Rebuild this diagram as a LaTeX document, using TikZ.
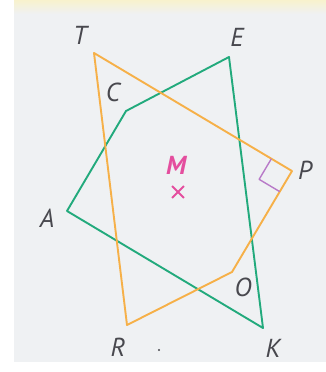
\documentclass[tikz,border=0pt]{standalone}
\usepackage{fontspec}
\setmainfont{PT Sans}
\usepackage{tikz}
\usetikzlibrary{calc,positioning,shapes.misc}
\definecolor{cPaper}{RGB}{239,241,243}
\definecolor{cStrip}{RGB}{248,242,205}
\definecolor{cOrange}{RGB}{246,176,72}
\definecolor{cGreen}{RGB}{34,170,124}
\definecolor{cPink}{RGB}{228,78,158}
\definecolor{cLila}{RGB}{184,122,200}
\definecolor{cInk}{RGB}{72,72,78}

\begin{document}
\begin{tikzpicture}[x=1pt,y=-1pt,line join=round,
  side/.style={line width=1.9pt},
  quadA/.style={side,draw=cGreen},
  quadB/.style={side,draw=cOrange},
  lbl/.style={font=\fontsize{26}{28}\selectfont\itshape,text=cInk,inner sep=0pt},
  rmark/.style={line width=1.4pt,draw=cLila}]
  % paper
  \fill[white] (0,0) rectangle (326,372);
  \useasboundingbox (0,0) rectangle (326,372);
  \fill[cPaper] (14,0) rectangle (326,362);
  \shade[top color=cStrip,bottom color=cPaper] (14,0) rectangle (326,14);
  % corners
  \coordinate (E) at (229,57);
  \coordinate (C) at (126,111);
  \coordinate (A) at (67,211);
  \coordinate (K) at (263,328);
  \coordinate (T) at (94,53);
  \coordinate (P) at (292,171);
  \coordinate (O) at (232,272);
  \coordinate (R) at (127,325);
  % the two quadrilaterals
  \draw[quadA] (E) -- (C) -- (A) -- (K) -- cycle;
  \draw[quadB] (T) -- (P) -- (O) -- (R) -- cycle;
  % right angle at P
  \draw[rmark] ($(P)!24pt!(T)$) -- ($($(P)!24pt!(T)$)+($(P)!24pt!(O)$)-(P)$) -- ($(P)!24pt!(O)$);
  % centre
  \node[cross out,draw=cPink,line width=1.8pt,minimum size=10pt,inner sep=0pt] (Mx) at (178,192) {};
  \node[lbl,text=cPink,font=\fontsize{26}{28}\selectfont\bfseries\itshape] (lM) at (176,165) {M};
  % names
  \node[lbl] (lT) at (80,35) {T};
  \node[lbl] (lE) at (237,37) {E};
  \node[lbl] (lC) at (113,92) {C};
  \node[lbl] (lA) at (47,218) {A};
  \node[lbl] (lP) at (305,170) {P};
  \node[lbl] (lO) at (243,287) {O};
  \node[lbl] (lR) at (118,347) {R};
  \node[lbl] (lK) at (273,348) {K};
  \fill[cInk] (159,350) circle (1.1pt);
\end{tikzpicture}
\end{document}
